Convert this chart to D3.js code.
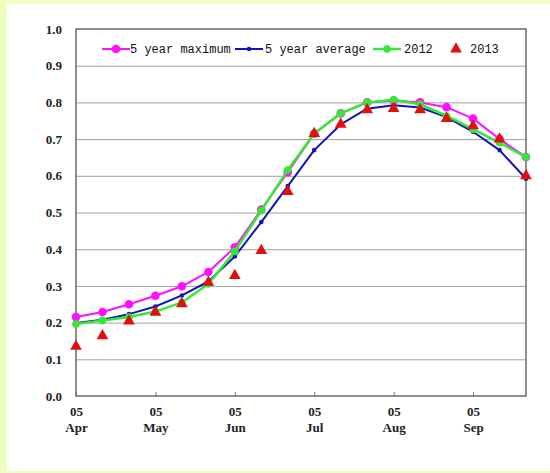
<!DOCTYPE html>
<html>
<head>
<meta charset="utf-8">
<script src="https://cdn.jsdelivr.net/npm/d3@7"></script>
<style>
  html, body { margin: 0; padding: 0; background: #eefdc2; }
  svg { display: block; }
</style>
</head>
<body>
<script>
// ---- data ----
const pointIndex = d3.range(18); // every ~10 days, 5 Apr .. late Sep
const tickIndex = [0, 3, 6, 9, 12, 15];
const tickDays = ["05", "05", "05", "05", "05", "05"];
const tickMonths = ["Apr", "May", "Jun", "Jul", "Aug", "Sep"];
const yTicks = [0, 0.1, 0.2, 0.3, 0.4, 0.5, 0.6, 0.7, 0.8, 0.9, 1.0];

const max5 = [0.215, 0.229, 0.25, 0.273, 0.299, 0.338, 0.405, 0.508, 0.61, 0.715, 0.77, 0.80, 0.805, 0.80, 0.787, 0.756, 0.70, 0.651];
const avg5 = [0.199, 0.208, 0.223, 0.244, 0.274, 0.312, 0.38, 0.474, 0.572, 0.67, 0.74, 0.783, 0.792, 0.786, 0.76, 0.72, 0.67, 0.592];
const y2012 = [0.196, 0.206, 0.215, 0.23, 0.255, 0.305, 0.394, 0.505, 0.616, 0.715, 0.77, 0.80, 0.807, 0.795, 0.763, 0.727, 0.69, 0.651];
const y2013 = [0.135, 0.164, 0.204, 0.228, 0.251, 0.31, 0.328, 0.396, 0.557, 0.715, 0.74, 0.78, 0.783, 0.78, 0.756, 0.736, 0.70, 0.60];

const seriesNames = ["5 year maximum", "5 year average", "2012", "2013"];

// ---- layout ----
const W = 550, H = 473;
const svg = d3.select("body").append("svg").attr("width", W).attr("height", H);
svg.append("rect").attr("x", 0).attr("y", 0).attr("width", W).attr("height", H).attr("fill", "#eefdc2");
svg.append("rect").attr("x", 7).attr("y", 4).attr("width", W - 7).attr("height", 467).attr("fill", "#ffffff");

const L = 76, R = 526, T = 29, B = 396;
const x = d3.scaleLinear().domain([0, 17]).range([L, R]);
const y = d3.scaleLinear().domain([0, 1]).range([B, T]);

// gridlines
const grid = svg.append("g").attr("transform", `translate(${L},0)`)
  .call(d3.axisLeft(y).tickValues(yTicks.slice(1, -1)).tickSize(-(R - L)).tickFormat(""));
grid.select(".domain").remove();
grid.selectAll("line").attr("stroke", "#a0a0a0").attr("stroke-width", 1);

// y labels
const yAx = svg.append("g").attr("transform", `translate(${L},0)`)
  .call(d3.axisLeft(y).tickValues(yTicks).tickSize(0).tickPadding(14).tickFormat(d3.format(".1f")));
yAx.select(".domain").remove();
yAx.selectAll("text").attr("font-family", "'Liberation Serif', 'Times New Roman', serif")
  .attr("font-weight", "bold").attr("font-size", 13).attr("fill", "#222");

// x axis
const xAx = svg.append("g").attr("transform", `translate(0,${B})`)
  .call(d3.axisBottom(x).tickValues(tickIndex).tickSize(-4).tickFormat(""));
xAx.select(".domain").remove();
xAx.selectAll("line").attr("stroke", "#777");
const xl = xAx.selectAll(".tick").append("g");
xl.append("text").attr("y", 20).attr("text-anchor", "middle")
  .text((d, i) => tickDays[i]);
xl.append("text").attr("y", 36).attr("text-anchor", "middle")
  .text((d, i) => tickMonths[i]);
xl.selectAll("text").attr("font-family", "'Liberation Serif', 'Times New Roman', serif")
  .attr("font-weight", "bold").attr("font-size", 13).attr("fill", "#222");

// plot frame
svg.append("rect").attr("x", L).attr("y", T).attr("width", R - L).attr("height", B - T)
  .attr("fill", "none").attr("stroke", "#6a6a6a").attr("stroke-width", 1.5);

// series
const line = d3.line().x((d, i) => x(pointIndex[i])).y(d => y(d));

function drawLine(data, color, width, r) {
  const g = svg.append("g");
  g.append("path").datum(data).attr("d", line).attr("fill", "none")
    .attr("stroke", color).attr("stroke-width", width).attr("stroke-linejoin", "round");
  g.selectAll("circle").data(data).join("circle")
    .attr("cx", (d, i) => x(pointIndex[i])).attr("cy", d => y(d)).attr("r", r).attr("fill", color);
}
drawLine(max5, "#ff10ff", 2, 4.3);
drawLine(avg5, "#1414b4", 2, 2.3);
drawLine(y2012, "#35e835", 2.5, 3.8);

const tri = d3.symbol().type(d3.symbolTriangle).size(60);
svg.append("g").selectAll("path").data(y2013).join("path")
  .attr("d", tri)
  .attr("transform", (d, i) => `translate(${x(pointIndex[i])},${y(d)})`)
  .attr("fill", "#e01010");

// legend
const ly = 49;
const legFont = "'Liberation Mono', 'DejaVu Sans Mono', monospace";
const legItems = [
  { x0: 102, color: "#ff10ff", r: 4.3, w: 2, tx: 130 },
  { x0: 235, color: "#1414b4", r: 2.3, w: 2, tx: 265 },
  { x0: 373, color: "#35e835", r: 3.8, w: 2.5, tx: 404 }
];
const leg = svg.append("g");
legItems.forEach((it, i) => {
  leg.append("line").attr("x1", it.x0).attr("x2", it.x0 + 28).attr("y1", ly).attr("y2", ly)
    .attr("stroke", it.color).attr("stroke-width", it.w);
  leg.append("circle").attr("cx", it.x0 + 14).attr("cy", ly).attr("r", it.r).attr("fill", it.color);
  leg.append("text").attr("x", it.tx).attr("y", ly + 4).text(seriesNames[i]);
});
leg.append("path").attr("d", tri).attr("transform", `translate(456,${ly})`).attr("fill", "#e01010");
leg.append("text").attr("x", 470).attr("y", ly + 4).text(seriesNames[3]);
leg.selectAll("text").attr("font-family", legFont).attr("font-size", 12).attr("fill", "#111");
</script>
</body>
</html>
